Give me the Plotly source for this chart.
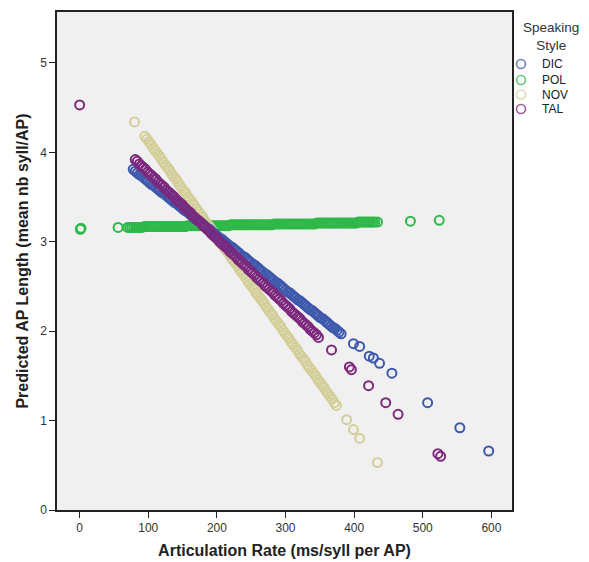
import plotly.graph_objects as go

# ---- data ----
styles = ["DIC", "POL", "NOV", "TAL"]
colors = {"DIC": "#3E58AC", "POL": "#2EB848", "NOV": "#D3CE97", "TAL": "#7C287D"}

dic_x = [78, 81, 84, 87, 90, 93, 96, 99, 102, 105, 108, 111, 114, 117, 120, 123, 126, 129, 132, 135,
         138, 141, 144, 147, 150, 153, 156, 159, 162, 165, 168, 171, 174, 177, 180, 183, 186, 189, 192, 195,
         198, 201, 204, 207, 210, 213, 216, 219, 222, 225, 228, 231, 234, 237, 240, 243, 246, 249, 252, 255,
         258, 261, 264, 267, 270, 273, 276, 279, 282, 285, 288, 291, 294, 297, 300, 303, 306, 309, 312, 315,
         318, 321, 324, 327, 330, 333, 336, 339, 342, 345, 348, 351, 354, 357, 360, 363, 366, 369, 372, 375,
         378, 381,
         399, 408, 422, 428, 437, 455, 507, 554, 596]
dic_y = [3.81, 3.79, 3.77, 3.75, 3.74, 3.72, 3.70, 3.68, 3.66, 3.64, 3.63, 3.61, 3.59, 3.57, 3.55, 3.54, 3.52, 3.50, 3.48, 3.46,
         3.44, 3.43, 3.41, 3.39, 3.37, 3.35, 3.34, 3.32, 3.30, 3.28, 3.26, 3.24, 3.23, 3.21, 3.19, 3.17, 3.15, 3.14, 3.12, 3.10,
         3.08, 3.06, 3.04, 3.03, 3.01, 2.99, 2.97, 2.95, 2.94, 2.92, 2.90, 2.88, 2.86, 2.84, 2.83, 2.81, 2.79, 2.77, 2.75, 2.74,
         2.72, 2.70, 2.68, 2.66, 2.64, 2.63, 2.61, 2.59, 2.57, 2.55, 2.54, 2.52, 2.50, 2.48, 2.46, 2.44, 2.43, 2.41, 2.39, 2.37,
         2.35, 2.34, 2.32, 2.30, 2.28, 2.26, 2.24, 2.23, 2.21, 2.19, 2.17, 2.15, 2.14, 2.12, 2.10, 2.08, 2.06, 2.04, 2.03, 2.01,
         1.99, 1.97,
         1.86, 1.83, 1.72, 1.70, 1.64, 1.53, 1.20, 0.92, 0.66]

pol_x = [1, 2, 56,
         70, 73, 76, 79, 82, 85, 88, 91, 94, 97, 100, 103, 106, 109, 112, 115, 118, 121, 124, 127,
         130, 133, 136, 139, 142, 145, 148, 151, 154, 157, 160, 163, 166, 169, 172, 175, 178, 181, 184, 187,
         190, 193, 196, 199, 202, 205, 208, 211, 214, 217, 220, 223, 226, 229, 232, 235, 238, 241, 244, 247,
         250, 253, 256, 259, 262, 265, 268, 271, 274, 277, 280, 283, 286, 289, 292, 295, 298, 301, 304, 307,
         310, 313, 316, 319, 322, 325, 328, 331, 334, 337, 340, 343, 346, 349, 352, 355, 358, 361, 364, 367,
         370, 373, 376, 379, 382, 385, 388, 391, 394, 397, 400, 403, 406, 409, 412, 415, 418, 421, 424, 427,
         430, 434, 482, 524]
pol_y = [3.14, 3.15, 3.16,
         3.16, 3.16, 3.16, 3.16, 3.16, 3.16, 3.16, 3.16, 3.17, 3.17, 3.17, 3.17, 3.17, 3.17, 3.17, 3.17, 3.17, 3.17, 3.17, 3.17,
         3.17, 3.17, 3.17, 3.17, 3.17, 3.17, 3.17, 3.17, 3.17, 3.18, 3.18, 3.18, 3.18, 3.18, 3.18, 3.18, 3.18, 3.18, 3.18, 3.18,
         3.18, 3.18, 3.18, 3.18, 3.18, 3.18, 3.18, 3.18, 3.18, 3.18, 3.19, 3.19, 3.19, 3.19, 3.19, 3.19, 3.19, 3.19, 3.19, 3.19,
         3.19, 3.19, 3.19, 3.19, 3.19, 3.19, 3.19, 3.19, 3.19, 3.19, 3.19, 3.20, 3.20, 3.20, 3.20, 3.20, 3.20, 3.20, 3.20, 3.20,
         3.20, 3.20, 3.20, 3.20, 3.20, 3.20, 3.20, 3.20, 3.20, 3.20, 3.20, 3.20, 3.21, 3.21, 3.21, 3.21, 3.21, 3.21, 3.21, 3.21,
         3.21, 3.21, 3.21, 3.21, 3.21, 3.21, 3.21, 3.21, 3.21, 3.21, 3.21, 3.21, 3.22, 3.22, 3.22, 3.22, 3.22, 3.22, 3.22, 3.22,
         3.22, 3.22, 3.23, 3.24]

nov_x = [80,
         95, 98, 101, 104, 107, 110, 113, 116, 119, 122, 125, 128, 131, 134, 137, 140, 143, 146, 149, 152,
         155, 158, 161, 164, 167, 170, 173, 176, 179, 182, 185, 188, 191, 194, 197, 200, 203, 206, 209, 212,
         215, 218, 221, 224, 227, 230, 233, 236, 239, 242, 245, 248, 251, 254, 257, 260, 263, 266, 269, 272,
         275, 278, 281, 284, 287, 290, 293, 296, 299, 302, 305, 308, 311, 314, 317, 320, 323, 326, 329, 332,
         335, 338, 341, 344, 347, 350, 353, 356, 359, 362, 365, 368, 371, 374,
         389, 399, 408, 434]
nov_y = [4.34,
         4.18, 4.15, 4.12, 4.09, 4.05, 4.02, 3.99, 3.96, 3.93, 3.89, 3.86, 3.83, 3.80, 3.76, 3.73, 3.70, 3.67, 3.63, 3.60, 3.57,
         3.54, 3.50, 3.47, 3.44, 3.41, 3.37, 3.34, 3.31, 3.28, 3.24, 3.21, 3.18, 3.15, 3.12, 3.08, 3.05, 3.02, 2.99, 2.95, 2.92,
         2.89, 2.86, 2.82, 2.79, 2.76, 2.73, 2.69, 2.66, 2.63, 2.60, 2.56, 2.53, 2.50, 2.47, 2.43, 2.40, 2.37, 2.34, 2.31, 2.27,
         2.24, 2.21, 2.18, 2.14, 2.11, 2.08, 2.05, 2.01, 1.98, 1.95, 1.92, 1.88, 1.85, 1.82, 1.79, 1.75, 1.72, 1.69, 1.66, 1.62,
         1.59, 1.56, 1.53, 1.50, 1.46, 1.43, 1.40, 1.37, 1.33, 1.30, 1.27, 1.24, 1.20, 1.17,
         1.01, 0.90, 0.80, 0.53]

tal_x = [0,
         81, 84, 87, 90, 93, 96, 99, 102, 105, 108, 111, 114, 117, 120, 123, 126, 129, 132, 135, 138,
         141, 144, 147, 150, 153, 156, 159, 162, 165, 168, 171, 174, 177, 180, 183, 186, 189, 192, 195, 198,
         201, 204, 207, 210, 213, 216, 219, 222, 225, 228, 231, 234, 237, 240, 243, 246, 249, 252, 255, 258,
         261, 264, 267, 270, 273, 276, 279, 282, 285, 288, 291, 294, 297, 300, 303, 306, 309, 312, 315, 318,
         321, 324, 327, 330, 333, 336, 339, 342, 345, 348,
         367, 393, 396, 421, 446, 464, 522, 526]
tal_y = [4.53,
         3.92, 3.90, 3.87, 3.85, 3.83, 3.81, 3.78, 3.76, 3.74, 3.72, 3.70, 3.67, 3.65, 3.63, 3.61, 3.58, 3.56, 3.54, 3.52, 3.50,
         3.47, 3.45, 3.43, 3.41, 3.38, 3.36, 3.34, 3.32, 3.29, 3.27, 3.25, 3.23, 3.21, 3.18, 3.16, 3.14, 3.12, 3.09, 3.07, 3.05,
         3.03, 3.00, 2.98, 2.96, 2.94, 2.92, 2.89, 2.87, 2.85, 2.83, 2.80, 2.78, 2.76, 2.74, 2.72, 2.69, 2.67, 2.65, 2.63, 2.60,
         2.58, 2.56, 2.54, 2.51, 2.49, 2.47, 2.45, 2.43, 2.40, 2.38, 2.36, 2.34, 2.31, 2.29, 2.27, 2.25, 2.22, 2.20, 2.18, 2.16,
         2.14, 2.11, 2.09, 2.07, 2.05, 2.02, 2.00, 1.98, 1.96, 1.93,
         1.79, 1.60, 1.57, 1.39, 1.20, 1.07, 0.63, 0.60]

series = {"DIC": (dic_x, dic_y), "POL": (pol_x, pol_y), "NOV": (nov_x, nov_y), "TAL": (tal_x, tal_y)}
for _n, (_x, _y) in series.items():
    assert len(_x) == len(_y), (_n, len(_x), len(_y))

x_ticks = [0, 100, 200, 300, 400, 500, 600]
y_ticks = [0, 1, 2, 3, 4, 5]

legend_title = "Speaking<br>Style"

fig = go.Figure()
draw_order = ["POL", "NOV", "DIC", "TAL"]
for name in draw_order:
    xs, ys = series[name]
    fig.add_trace(go.Scatter(
        x=xs, y=ys, mode="markers", name=name, showlegend=False,
        marker=dict(symbol="circle-open", size=9, color=colors[name],
                    line=dict(width=2.0, color=colors[name])),
    ))

# manual legend (paper coordinates relative to plot area)
font_family = "Liberation Sans, Arial, sans-serif"
row_y = [0.8956, 0.8635, 0.8343, 0.8052]
for i, name in enumerate(styles):
    fig.add_shape(type="circle", xref="paper", yref="paper",
                  xsizemode="pixel", ysizemode="pixel",
                  xanchor=1.0198, yanchor=row_y[i], x0=-4.5, x1=4.5, y0=-4.5, y1=4.5,
                  line=dict(color=colors[name], width=1.6), opacity=0.75)
    fig.add_annotation(x=1.0615, y=row_y[i], xref="paper", yref="paper",
                       xanchor="left", yanchor="middle", showarrow=False,
                       text=name, font=dict(size=12, color="#222", family=font_family))
fig.add_annotation(x=1.0857, y=0.9518, xref="paper", yref="paper",
                   xanchor="center", yanchor="middle", showarrow=False, align="center",
                   text=legend_title, font=dict(size=13.5, color="#333", family=font_family))

# page body has an 8px margin, so the figure is sized/offset to compensate
fig.update_layout(
    width=581, height=554,
    margin=dict(l=49, r=77, t=4, b=52, autoexpand=False),
    paper_bgcolor="white", plot_bgcolor="#F0F0F0",
    font=dict(family=font_family, size=12, color="#222"),
    showlegend=False,
    xaxis=dict(
        range=[-33, 630], tickvals=x_ticks, showgrid=False, zeroline=False, automargin=False,
        showline=True, linecolor="#222", linewidth=1.5, mirror=True,
        ticks="outside", ticklen=6, tickcolor="#222", tickfont=dict(size=12, color="#333"),
        title=dict(text="<b>Articulation Rate (ms/syll per AP)</b>", font=dict(size=16, color="#222"), standoff=11),
    ),
    yaxis=dict(
        range=[0, 5.57], tickvals=y_ticks, showgrid=False, zeroline=False, automargin=False,
        showline=True, linecolor="#222", linewidth=1.5, mirror=True,
        ticks="outside", ticklen=6, tickcolor="#222", tickfont=dict(size=12, color="#333"),
        title=dict(text="<b>Predicted AP Length (mean nb syll/AP)</b>", font=dict(size=16, color="#222"), standoff=8),
    ),
)

fig.write_html("out.html")
